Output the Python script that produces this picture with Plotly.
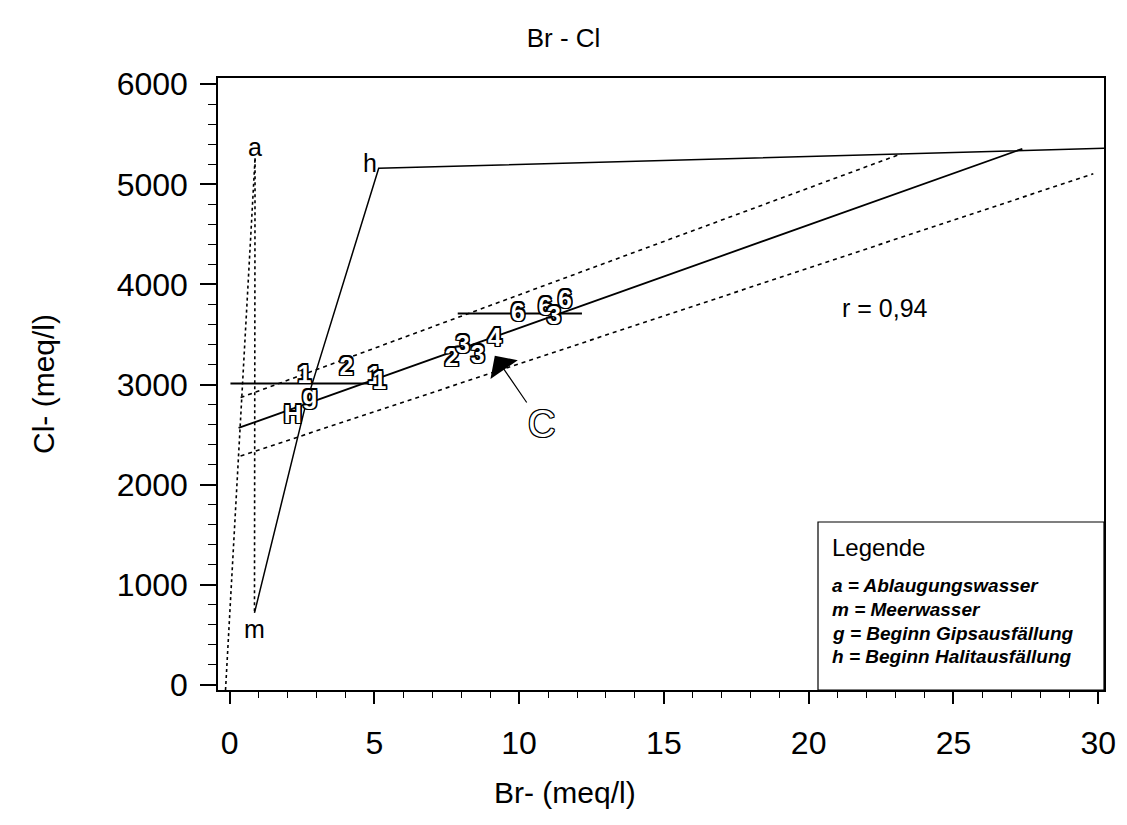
import plotly.graph_objects as go

# ---------------- data ----------------
regress_x = [0.31, 27.38]
regress_y = [2567, 5355]
upper_x = [0.38, 23.2]
upper_y = [2870, 5305]
lower_x = [0.38, 29.83]
lower_y = [2287, 5105]

# seawater evaporation path m -> g -> h -> halite precipitation
evap_x = [0.86, 2.63, 5.15, 30.2]
evap_y = [720, 2800, 5160, 5360]

# mixing lines (dotted)
mix_am_x = [0.88, 0.86]
mix_am_y = [5260, 720]
mix_0a_x = [-0.14, 0.88]
mix_0a_y = [-50, 5260]

# horizontal range bars
bar1_x = [0.03, 4.94]
bar1_y = [3011, 3011]
bar2_x = [7.88, 12.17]
bar2_y = [3709, 3709]

# sample labels
sample_x = [2.59, 4.04, 2.18, 5.0, 5.18, 7.67, 8.05, 8.57, 9.16, 9.96, 10.9, 11.2, 11.58]
sample_y = [3081, 3161, 2682, 3070, 3020, 3250, 3380, 3280, 3450, 3699, 3760, 3670, 3829]
sample_txt = ["1", "2", "H", "1", "1", "2", "3", "3", "4", "6", "6", "3", "6"]

# end-member labels
end_x = [0.88, 0.86, 4.85]
end_y = [5220, 660, 5190]
end_txt = ["a", "m", "h"]
end_pos = ["top center", "bottom center", "middle center"]
g_x = [2.77]
g_y = [2871]

# C arrow (tip and label position)
c_tip = (9.16, 3287)
c_label = (10.78, 2602)

legend_lines = ["a = Ablaugungswasser", "m = Meerwasser",
                "g = Beginn Gipsausfällung", "h = Beginn Halitausfällung"]

FONT = "Liberation Sans, Arial, sans-serif"
OUTLINE = ("-1.5px -1.5px 0 #000, 1.5px -1.5px 0 #000, -1.5px 1.5px 0 #000, 1.5px 1.5px 0 #000, "
           "0 1.5px 0 #000, 0 -1.5px 0 #000, 1.5px 0 0 #000, -1.5px 0 0 #000")
OUTLINE_THIN = ("-1px -1px 0 #000, 1px -1px 0 #000, -1px 1px 0 #000, 1px 1px 0 #000, "
                "0 1px 0 #000, 0 -1px 0 #000, 1px 0 0 #000, -1px 0 0 #000")

fig = go.Figure()

def line(x, y, dash="solid", width=1.6):
    fig.add_trace(go.Scatter(x=x, y=y, mode="lines",
                             line=dict(color="black", width=width, dash=dash),
                             showlegend=False, hoverinfo="skip"))

line(mix_0a_x, mix_0a_y, dash="dot", width=1.6)
line(mix_am_x, mix_am_y, dash="dot", width=1.6)
line(upper_x, upper_y, dash="4px,4px", width=1.6)
line(lower_x, lower_y, dash="4px,4px", width=1.6)
line(regress_x, regress_y, width=1.8)
line(evap_x, evap_y, width=1.5)
line(bar1_x, bar1_y, width=2)
line(bar2_x, bar2_y, width=2)

fig.add_trace(go.Scatter(
    x=sample_x, y=sample_y, text=sample_txt, mode="text",
    textposition="middle center",
    textfont=dict(family=FONT, size=25, color="white", weight="bold", shadow=OUTLINE),
    showlegend=False, hoverinfo="skip"))

fig.add_trace(go.Scatter(
    x=g_x, y=g_y, text=["g"], mode="text", textposition="middle center",
    textfont=dict(family=FONT, size=25, color="white", weight="bold", shadow=OUTLINE),
    showlegend=False, hoverinfo="skip"))

fig.add_trace(go.Scatter(
    x=end_x, y=end_y, text=end_txt, mode="text",
    textposition=end_pos,
    textfont=dict(family=FONT, size=25, color="black"),
    showlegend=False, hoverinfo="skip"))

fig.add_annotation(x=c_tip[0], y=c_tip[1], ax=c_label[0], ay=c_label[1], axref="x", ayref="y",
                   text="C", showarrow=True, arrowhead=1, arrowsize=4.6,
                   arrowwidth=1.2, arrowcolor="black", standoff=0,
                   font=dict(family=FONT, size=38, color="white", shadow=OUTLINE_THIN))

fig.add_annotation(x=22.64, y=3769, text="r = 0,94", showarrow=False,
                   font=dict(family=FONT, size=25, color="black"))

# legend box
fig.add_shape(type="rect", xref="paper", yref="paper",
              x0=(818 - 218) / 886, x1=1.0, y0=0.0, y1=(690 - 522) / 612,
              line=dict(color="black", width=1.2), fillcolor="white", layer="above")
fig.add_annotation(xref="paper", yref="paper", x=(830 - 218) / 886, y=(690 - 547) / 612,
                   xanchor="left", yanchor="middle", text="Legende", showarrow=False,
                   font=dict(family=FONT, size=24, color="black"))
for i, t in enumerate(legend_lines):
    ypix = [585, 609, 633, 656][i]
    fig.add_annotation(xref="paper", yref="paper", x=(830 - 218) / 886, y=(690 - ypix) / 612,
                       xanchor="left", yanchor="middle", text="<i><b>" + t + "</b></i>",
                       showarrow=False,
                       font=dict(family=FONT, size=19, color="black"))

# x axis title as annotation (centered on page)
fig.add_annotation(xref="paper", yref="paper", x=(565 - 218) / 886, y=(690 - 792) / 612,
                   text="Br- (meq/l)", showarrow=False, xanchor="center", yanchor="middle",
                   font=dict(family=FONT, size=30, color="black"))

fig.update_layout(
    width=1127, height=825,
    margin=dict(l=218, r=23, t=78, b=135, autoexpand=False),
    paper_bgcolor="white", plot_bgcolor="white",
    title=dict(text="Br - Cl", x=0.5, xanchor="center", y=1 - 38 / 825, yanchor="middle",
               font=dict(family=FONT, size=26, color="black")),
    font=dict(family=FONT, color="black"),
    xaxis=dict(range=[-0.4, 30.2], tickvals=[0, 5, 10, 15, 20, 25, 30], automargin=False,
               showgrid=False, zeroline=False, showline=True, linecolor="black",
               linewidth=1.5, mirror=True, ticks="outside", ticklen=12, tickwidth=1.5,
               tickcolor="black", tickfont=dict(size=32), ticklabelstandoff=12,
               minor=dict(dtick=1, tick0=0, ticks="outside", ticklen=6, tickcolor="black",
                          tickwidth=1.2)),
    yaxis=dict(range=[-50, 6062], tickvals=[0, 1000, 2000, 3000, 4000, 5000, 6000],
               automargin=False,
               showgrid=False, zeroline=False, showline=True, linecolor="black",
               linewidth=1.5, mirror=True, ticks="outside", ticklen=16, tickwidth=1.5,
               tickcolor="black", tickfont=dict(size=32), ticklabelstandoff=6,
               title=dict(text="Cl- (meq/l)", font=dict(size=30), standoff=53),
               minor=dict(dtick=200, tick0=0, ticks="outside", ticklen=8, tickcolor="black",
                          tickwidth=1.2)),
)

fig.write_html("out.html", config={"displayModeBar": False},
               post_script="document.body.style.margin='0px';document.body.style.overflow='hidden';")
